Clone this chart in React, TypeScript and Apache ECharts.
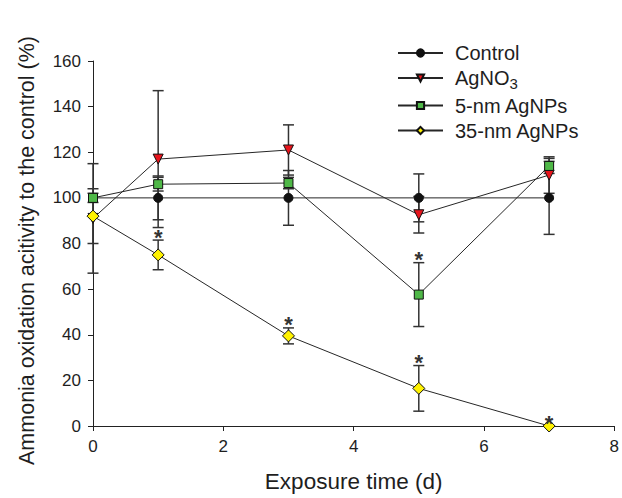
import React, { useEffect, useRef } from "react";
import * as echarts from "echarts";

const days = [0, 1, 3, 5, 7];
const seriesNames = ["Control", "AgNO3", "5-nm AgNPs", "35-nm AgNPs"];
const controlVals = [100, 100, 100, 100, 100];
const controlErr = [0, 9.6, 12, 10.5, 16];
const agno3Vals = [91, 117, 121, 92.6, 110];
const agno3Err = [24, 30, 11, 8, 8];
const np5Vals = [100, 106, 106.5, 57.6, 114];
const np5Err = [2, 3, 2.5, 14, 3.3];
const np35Vals = [92, 75, 39.5, 16.5, 0];
const np35Err = [12, 6.5, 3.5, 10, 0];
// indices (into days) marked with an asterisk
const star5 = [3];
const star35 = [1, 2, 3, 4];
const xTicks = [0, 2, 4, 6, 8];
const yTicks = [0, 20, 40, 60, 80, 100, 120, 140, 160];

const FONT = "Liberation Sans, Arial, sans-serif";
const LINE = "#262626";
const TXT = "#1e1e1e";

export default function App() {
  const ref = useRef<HTMLDivElement>(null);
  useEffect(() => {
    if (!ref.current) return;
    document.body.style.margin = "0";
    const chart = echarts.init(ref.current, undefined, { renderer: "svg", width: 622, height: 498 });
    const pts = (vals: number[]) => days.map((d, i) => [d, vals[i]]);
    const errs = (vals: number[], e: number[]) =>
      days.map((d, i) => [d, vals[i] - e[i], vals[i] + e[i]]).filter((r) => r[2] > r[1]);
    const errData = [
      ...errs(controlVals, controlErr),
      ...errs(agno3Vals, agno3Err),
      ...errs(np5Vals, np5Err),
      ...errs(np35Vals, np35Err),
    ];
    const starData = [
      ...star5.map((i) => [days[i], np5Vals[i] + np5Err[i]]),
      ...star35.map((i) => [days[i], np35Vals[i] + np35Err[i]]),
    ];
    const mk = (name: string, vals: number[], symbol: string, color: string, size: number, rot = 0) => ({
      type: "line",
      name,
      data: pts(vals),
      symbol,
      symbolSize: size,
      symbolRotate: rot,
      showAllSymbol: true,
      lineStyle: { color: LINE, width: 1 },
      itemStyle: { color, borderColor: "#111", borderWidth: 1 },
      z: 3,
    });
    const option: any = {
      animation: false,
      grid: { left: 93, right: 5, top: 61, bottom: 71 },
      legend: {
        data: seriesNames,
        orient: "vertical",
        left: 392,
        top: 38,
        itemWidth: 45,
        itemHeight: 9,
        itemGap: 5,
        textStyle: {
          fontFamily: FONT,
          fontSize: 20,
          color: TXT,
          padding: [0, 0, 0, 7],
          rich: {
            n: { fontFamily: FONT, fontSize: 20, color: TXT },
            s: { fontFamily: FONT, fontSize: 15, color: TXT, padding: [10, 0, 0, 0] },
          },
        },
        formatter: (name: string) => (name === "AgNO3" ? "{n|AgNO}{s|3}" : name),
      },
      xAxis: {
        type: "value",
        min: 0,
        max: 8,
        interval: 2,
        axisLabel: { fontFamily: FONT, fontSize: 17, color: TXT, margin: 12 },
        name: "Exposure time (d)",
        nameLocation: "middle",
        nameGap: 44,
        nameTextStyle: { fontFamily: FONT, fontSize: 22.5, color: TXT },
        axisLine: { lineStyle: { color: "#222", width: 1 } },
        axisTick: { show: true, length: 5, lineStyle: { color: "#222" } },
        splitLine: { show: false },
      },
      yAxis: {
        type: "value",
        min: 0,
        max: 160,
        interval: 20,
        axisLabel: { fontFamily: FONT, fontSize: 17, color: TXT, margin: 12 },
        name: "Ammonia oxidation acitivity to the control (%)",
        nameLocation: "middle",
        nameGap: 55,
        nameTextStyle: { fontFamily: FONT, fontSize: 21.5, color: TXT, padding: [0, 14, 0, 0] },
        axisLine: { show: true, lineStyle: { color: "#222", width: 1 } },
        axisTick: { show: true, length: 5, lineStyle: { color: "#222" } },
        splitLine: { show: false },
      },
      series: [
        {
          type: "custom",
          name: "errors",
          data: errData,
          encode: { x: 0, y: [1, 2] },
          z: 2,
          renderItem: (params: any, api: any) => {
            const x = api.value(0);
            const lo = api.coord([x, api.value(1)]);
            const hi = api.coord([x, api.value(2)]);
            const w = 5.5;
            const st = { stroke: "#333", lineWidth: 1.5 };
            return {
              type: "group",
              children: [
                { type: "line", shape: { x1: lo[0], y1: lo[1], x2: hi[0], y2: hi[1] }, style: st },
                { type: "line", shape: { x1: lo[0] - w, y1: lo[1], x2: lo[0] + w, y2: lo[1] }, style: st },
                { type: "line", shape: { x1: hi[0] - w, y1: hi[1], x2: hi[0] + w, y2: hi[1] }, style: st },
              ],
            };
          },
        },
        mk("Control", controlVals, "circle", "#111", 9),
        mk("AgNO3", agno3Vals, "triangle", "#e8141c", 10, 180),
        mk("5-nm AgNPs", np5Vals, "rect", "#4fb848", 9),
        mk("35-nm AgNPs", np35Vals, "diamond", "#fff200", 12),
        {
          type: "custom",
          name: "stars",
          data: starData,
          encode: { x: 0, y: 1 },
          z: 4,
          renderItem: (params: any, api: any) => {
            const p = api.coord([api.value(0), api.value(1)]);
            return {
              type: "text",
              x: p[0],
              y: p[1] + 8,
              style: {
                text: "*",
                fontFamily: FONT,
                fontSize: 22,
                fontWeight: "bold",
                fill: "#333",
                textAlign: "center",
                textVerticalAlign: "bottom",
              },
            };
          },
        },
      ],
    };
    chart.setOption(option);
    return () => chart.dispose();
  }, []);
  return <div ref={ref} style={{ width: 622, height: 498 }} />;
}
